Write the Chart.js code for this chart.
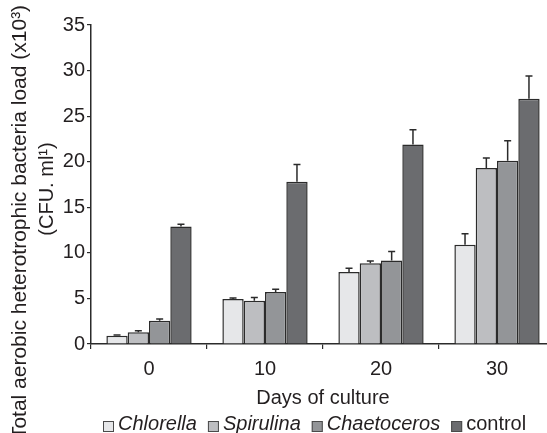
<!DOCTYPE html>
<html>
<head>
<meta charset="utf-8">
<script src="https://cdn.jsdelivr.net/npm/chart.js@4"></script>
<style>
  html, body { margin: 0; padding: 0; background: #fff; overflow: hidden; }
  #wrap { position: relative; width: 560px; height: 433px; }
</style>
</head>
<body>
<div id="wrap"><canvas id="bacteriaChart"></canvas></div>
<script>
// Datos
const days = ['0', '10', '20', '30'];
const seriesNames = ['Chlorella', 'Spirulina', 'Chaetoceros', 'control'];
const chlorella = [0.9, 4.95, 7.9, 10.9];
const spirulina = [1.3, 4.75, 8.85, 19.3];
const chaetoceros = [2.55, 5.7, 9.15, 20.1];
const control = [12.9, 17.8, 21.9, 26.9];
const chlorellaErr = [0.1, 0.1, 0.4, 1.2];
const spirulinaErr = [0.15, 0.35, 0.25, 1.1];
const chaetocerosErr = [0.2, 0.3, 1.0, 2.2];
const controlErr = [0.25, 1.9, 1.6, 2.5];
const yTicks = [0, 5, 10, 15, 20, 25, 30, 35];

const fills = ['#e6e7e9', '#bdbec1', '#939598', '#6b6c6f'];
const textColor = '#231f20';
const fontFamily = '"Liberation Sans", Arial, sans-serif';

const values = [chlorella, spirulina, chaetoceros, control];
const errors = [chlorellaErr, spirulinaErr, chaetocerosErr, controlErr];

// Barras de error solo hacia arriba, con tope
const errorBars = {
    id: 'errorBars',
    afterDatasetsDraw(chart) {
        const ctx = chart.ctx;
        const y = chart.scales.y;
        ctx.save();
        ctx.strokeStyle = '#2b2b2b';
        ctx.lineWidth = 1.5;
        chart.data.datasets.forEach((ds, i) => {
            const meta = chart.getDatasetMeta(i);
            meta.data.forEach((bar, j) => {
                const top = y.getPixelForValue(ds.data[j] + ds.errors[j]);
                ctx.beginPath();
                ctx.moveTo(bar.x, bar.y);
                ctx.lineTo(bar.x, top);
                ctx.moveTo(bar.x - 3.5, top);
                ctx.lineTo(bar.x + 3.5, top);
                ctx.stroke();
            });
        });
        ctx.restore();
    }
};

// Titulo del eje Y en dos lineas y leyenda inferior
const extras = {
    id: 'extras',
    afterDraw(chart) {
        const ctx = chart.ctx;
        ctx.save();
        ctx.fillStyle = textColor;
        ctx.font = '21px ' + fontFamily;
        ctx.textAlign = 'center';
        ctx.textBaseline = 'middle';
        ctx.translate(20, 222);
        ctx.rotate(-Math.PI / 2);
        ctx.fillText('Total aerobic heterotrophic bacteria load (x10\u00b3)', 0, 0);
        ctx.restore();

        ctx.save();
        ctx.fillStyle = textColor;
        ctx.font = '20px ' + fontFamily;
        ctx.textAlign = 'center';
        ctx.textBaseline = 'middle';
        ctx.translate(47, 189);
        ctx.rotate(-Math.PI / 2);
        ctx.fillText('(CFU. ml\u00b9)', 0, 0);
        ctx.restore();

        // leyenda
        ctx.save();
        let x = 103;
        const yMid = 424;
        ctx.textBaseline = 'middle';
        ctx.textAlign = 'left';
        seriesNames.forEach((name, i) => {
            ctx.fillStyle = fills[i];
            ctx.strokeStyle = '#4a4a4a';
            ctx.lineWidth = 1;
            ctx.fillRect(x, yMid - 3, 11, 11);
            ctx.strokeRect(x + 0.5, yMid - 2.5, 10, 10);
            x += 15;
            ctx.font = (i < 3 ? 'italic ' : '') + '20px ' + fontFamily;
            ctx.fillStyle = textColor;
            ctx.fillText(name, x, yMid);
            x += ctx.measureText(name).width + 11;
        });
        ctx.restore();
    }
};

const ctx = document.getElementById('bacteriaChart');

new Chart(ctx.getContext('2d'), {
    type: 'bar',
    data: {
        labels: days,
        datasets: seriesNames.map((name, i) => ({
            label: name,
            data: values[i],
            errors: errors[i],
            backgroundColor: fills[i],
            borderColor: '#2b2b2b',
            borderWidth: 1.5,
            borderSkipped: 'bottom',
            barPercentage: 1.0,
            categoryPercentage: 0.735
        }))
    },
    options: {
        responsive: true,
        maintainAspectRatio: false,
        animation: false,
        devicePixelRatio: 1,
        layout: { padding: { left: 0, right: 5, top: 25, bottom: 23 } },
        plugins: {
            legend: { display: false },
            tooltip: { enabled: false }
        },
        scales: {
            x: {
                offset: true,
                grid: {
                    display: true,
                    offset: true,
                    drawOnChartArea: false,
                    drawTicks: true,
                    tickLength: 5,
                    color: '#2b2b2b',
                    lineWidth: 1.2
                },
                border: { display: true, color: '#2b2b2b', width: 1.5 },
                ticks: {
                    color: textColor,
                    font: { family: fontFamily, size: 20 },
                    padding: 8,
                    maxRotation: 0
                },
                title: {
                    display: true,
                    text: 'Days of culture',
                    color: textColor,
                    font: { family: fontFamily, size: 20 },
                    padding: { top: 0, bottom: 0 }
                },
                afterFit(scale) { scale.height = 66; }
            },
            y: {
                min: 0,
                max: 35,
                afterBuildTicks(scale) { scale.ticks = yTicks.map(v => ({ value: v })); },
                grid: {
                    display: true,
                    drawOnChartArea: false,
                    drawTicks: true,
                    tickLength: 4,
                    color: '#2b2b2b',
                    lineWidth: 1.2
                },
                border: { display: true, color: '#2b2b2b', width: 1.5 },
                ticks: {
                    color: textColor,
                    font: { family: fontFamily, size: 20 },
                    padding: 2
                },
                afterFit(scale) { scale.width = 91; }
            }
        }
    },
    plugins: [errorBars, extras]
});
</script>
</body>
</html>
